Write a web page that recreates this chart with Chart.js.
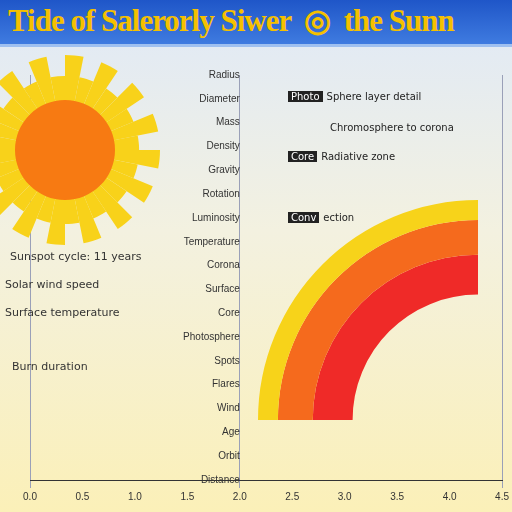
<!DOCTYPE html><html><head><meta charset="utf-8">
<script src="https://cdn.jsdelivr.net/npm/chart.js@4"></script>
<style>
html,body{margin:0;width:512px;height:512px;overflow:hidden;font-family:"Liberation Serif",serif}
body{background:linear-gradient(#dfe9f8 0%,#f3f1e0 45%,#fbf0b8 100%)}
#hdr{position:absolute;left:0;top:0;width:512px;height:44px;background:linear-gradient(#1f56c8,#3f7be0);border-bottom:3px solid #9fc0f0}
#hdr div{color:#f5c000;font-size:31px;font-weight:bold;position:absolute;top:2px;left:8px;white-space:nowrap;letter-spacing:-1px}
canvas{position:absolute}
.t{position:absolute;font:11px "DejaVu Sans";color:#333;white-space:nowrap}
.b{position:absolute;font:10px "DejaVu Sans";color:#222;white-space:nowrap}
.b span{background:#222;color:#fff;padding:0 3px;margin-right:4px}
</style></head><body>
<div id="hdr"><div>Tide of Salerorly Siwer &nbsp;◎ &nbsp;the Sunn</div></div>
<div style="position:absolute;left:0;top:66px;width:512px;height:440px"><canvas id="main"></canvas></div>
<div style="position:absolute;left:-30px;top:55px;width:190px;height:190px"><canvas id="rays"></canvas></div>
<div style="position:absolute;left:258px;top:200px;width:220px;height:220px"><canvas id="ring"></canvas></div>
<div class="t" style="left:10px;top:250px">Sunspot cycle: 11 years</div>
<div class="t" style="left:5px;top:278px">Solar wind speed</div>
<div class="t" style="left:5px;top:306px">Surface temperature</div>
<div class="t" style="left:12px;top:360px">Burn duration</div>
<div class="b" style="left:288px;top:91px"><span>Photo</span>Sphere layer detail</div>
<div class="b" style="left:330px;top:122px">Chromosphere to corona</div>
<div class="b" style="left:288px;top:151px"><span>Core</span>Radiative zone</div>
<div class="b" style="left:288px;top:212px"><span>Conv</span>ection</div>
<script>
const xLabels=["0.0","0.5","1.0","1.5","2.0","2.5","3.0","3.5","4.0","4.5"];
const yLabels=["Radius","Diameter","Mass","Density","Gravity","Rotation","Luminosity","Temperature","Corona","Surface","Core","Photosphere","Spots","Flares","Wind","Age","Orbit","Distance"];
const sunRays=[1,0.78,1,0.78,1,0.78,1,0.78,1,0.78,1,0.78,1,0.78,1,0.78,1,0.78,1,0.78,1,0.78,1,0.78,1,0.78,1,0.78,1,0.78,1,0.78];
const ringLayers=[["Outer layer",20],["Middle layer",35],["Inner layer",40]];
const ringColors=["#f7d31a","#f56a1d","#ef2a28"];
Chart.defaults.animation=false;
new Chart(document.getElementById('main'),{type:'line',data:{labels:xLabels,datasets:[{data:[]}]},
options:{responsive:true,maintainAspectRatio:false,plugins:{legend:{display:false}},layout:{padding:{left:30,right:8,top:0,bottom:0}},
scales:{x:{offset:false,grid:{color:c=>[0,4,9].includes(c.index)?"#9aa0b8":"rgba(0,0,0,0)",drawTicks:true},ticks:{color:"#333",font:{size:10}},border:{color:"#333"}},
y:{type:'category',labels:yLabels,position:{x:4},grid:{display:false},ticks:{color:"#333",font:{size:10}},border:{display:false}}}}});
new Chart(document.getElementById('rays'),{type:'polarArea',data:{labels:sunRays.map((_,i)=>"r"+i),datasets:[{data:sunRays,backgroundColor:"#f8d21a",borderWidth:0}]},
options:{responsive:true,maintainAspectRatio:false,plugins:{legend:{display:false}},scales:{r:{min:0,max:1,display:false}}}});
const core=document.createElement('canvas');
const cd=document.createElement('div');cd.style.cssText="position:absolute;left:15px;top:100px;width:100px;height:100px";cd.appendChild(core);document.body.appendChild(cd);
new Chart(core,{type:'pie',data:{labels:["Sun"],datasets:[{data:[1],backgroundColor:"#f77a12",borderWidth:0}]},options:{responsive:true,maintainAspectRatio:false,plugins:{legend:{display:false}}}});
new Chart(document.getElementById('ring'),{type:'doughnut',data:{labels:["arc"],datasets:ringLayers.map((l,i)=>({label:l[0],data:[1],backgroundColor:ringColors[i],borderWidth:0,weight:l[1]}))},
options:{responsive:true,maintainAspectRatio:false,rotation:-90,circumference:90,cutout:"57%",plugins:{legend:{display:false},tooltip:{enabled:false}}}});
</script></body></html>
